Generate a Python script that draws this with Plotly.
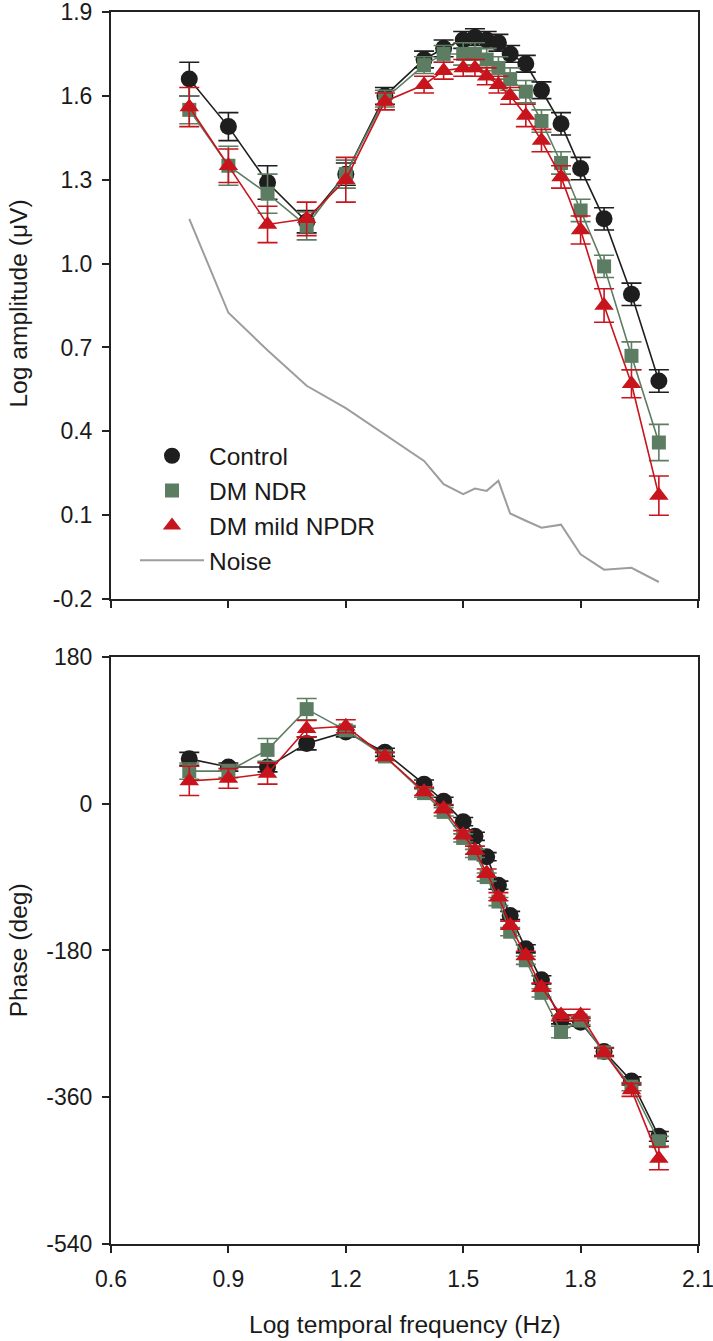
import plotly.graph_objects as go

# ---------------- data ----------------
log_freq = [0.8, 0.9, 1.0, 1.1, 1.2, 1.3, 1.4, 1.45, 1.5, 1.53, 1.56, 1.59,
            1.62, 1.66, 1.70, 1.75, 1.80, 1.86, 1.93, 2.0]

amp_control = [1.66, 1.49, 1.29, 1.15, 1.32, 1.60, 1.73, 1.77, 1.80, 1.81, 1.80, 1.79,
               1.75, 1.715, 1.62, 1.50, 1.34, 1.16, 0.89, 0.58]
amp_ndr = [1.55, 1.35, 1.25, 1.135, 1.32, 1.59, 1.71, 1.75, 1.75, 1.75, 1.73, 1.70,
           1.66, 1.615, 1.51, 1.36, 1.19, 0.99, 0.67, 0.36]
amp_npdr = [1.56, 1.35, 1.14, 1.16, 1.30, 1.58, 1.64, 1.69, 1.70, 1.70, 1.67, 1.64,
            1.60, 1.53, 1.44, 1.31, 1.12, 0.85, 0.57, 0.17]
amp_noise = [1.16, 0.824, 0.69, 0.563, 0.483, 0.39, 0.294, 0.211, 0.175, 0.195, 0.187, 0.223,
             0.106, 0.08, 0.055, 0.066, -0.04, -0.095, -0.088, -0.139]

amp_err_control = [0.06, 0.05, 0.06, 0.04, 0.04, 0.03, 0.03, 0.03, 0.03, 0.03, 0.03, 0.03,
                   0.03, 0.03, 0.03, 0.04, 0.04, 0.04, 0.04, 0.04]
amp_err_ndr = [0.05, 0.07, 0.07, 0.05, 0.05, 0.03, 0.03, 0.03, 0.04, 0.04, 0.04, 0.04,
               0.04, 0.04, 0.04, 0.04, 0.04, 0.04, 0.05, 0.065]
amp_err_npdr = [0.07, 0.06, 0.065, 0.06, 0.08, 0.03, 0.03, 0.03, 0.03, 0.03, 0.03, 0.03,
                0.03, 0.04, 0.04, 0.04, 0.05, 0.06, 0.05, 0.07]

phase_control = [55, 45, 45, 74, 88, 63, 24, 3, -22, -40, -65, -100,
                 -137, -178, -216, -265, -268, -304, -340, -408]
phase_ndr = [40, 40, 66, 116, 90, 58, 13, -10, -42, -61, -90, -120,
             -157, -192, -232, -280, -266, -305, -347, -414]
phase_npdr = [28, 31, 37, 92, 95, 58, 15, -6, -38, -57, -85, -114,
              -149, -186, -225, -259, -259, -305, -351, -435]

phase_err_control = [8, 5, 6, 8, 6, 5, 5, 5, 5, 5, 5, 5, 5, 5, 5, 5, 5, 5, 5, 6]
phase_err_ndr = [10, 8, 14, 13, 6, 5, 5, 5, 5, 5, 5, 5, 5, 5, 5, 7, 5, 5, 5, 6]
phase_err_npdr = [18, 12, 13, 10, 8, 5, 5, 5, 5, 5, 5, 5, 5, 5, 5, 7, 7, 5, 8, 14]

x_ticks = [0.6, 0.9, 1.2, 1.5, 1.8, 2.1]
x_ticktext = ["0.6", "0.9", "1.2", "1.5", "1.8", "2.1"]
amp_ticks = [-0.2, 0.1, 0.4, 0.7, 1.0, 1.3, 1.6, 1.9]
amp_ticktext = ["-0.2", "0.1", "0.4", "0.7", "1.0", "1.3", "1.6", "1.9"]
phase_ticks = [-540, -360, -180, 0, 180]
phase_ticktext = ["-540", "-360", "-180", "0", "180"]

groups = ["Control", "DM NDR", "DM mild NPDR"]
colors = ["#1e1e1e", "#5d7d62", "#c8141c"]
symbols = ["circle", "square", "triangle-up"]
sizes = [17, 14, 17]
noise_color = "#9d9d9d"

# ---------------- figure ----------------
FONT_FAMILY = "Liberation Sans, Arial, sans-serif"
TICKFONT = dict(family=FONT_FAMILY, size=23, color="#1a1a1a")
TITLEFONT = dict(family=FONT_FAMILY, size=24.6, color="#1a1a1a")
fig = go.Figure()

amps = [amp_control, amp_ndr, amp_npdr]
amp_errs = [amp_err_control, amp_err_ndr, amp_err_npdr]
phases = [phase_control, phase_ndr, phase_npdr]
phase_errs = [phase_err_control, phase_err_ndr, phase_err_npdr]

fig.add_trace(go.Scatter(x=log_freq, y=amp_noise, mode="lines",
                         line=dict(color=noise_color, width=2),
                         xaxis="x", yaxis="y", showlegend=False, hoverinfo="skip"))

for i, g in enumerate(groups):
    fig.add_trace(go.Scatter(
        x=log_freq, y=amps[i], mode="lines+markers",
        line=dict(color=colors[i], width=1.6),
        marker=dict(symbol=symbols[i], size=sizes[i], color=colors[i]),
        error_y=dict(type="data", array=amp_errs[i], color=colors[i], thickness=1.6, width=10),
        xaxis="x", yaxis="y", showlegend=False))
    fig.add_trace(go.Scatter(
        x=log_freq, y=phases[i], mode="lines+markers",
        line=dict(color=colors[i], width=1.6),
        marker=dict(symbol=symbols[i], size=sizes[i], color=colors[i]),
        error_y=dict(type="data", array=phase_errs[i], color=colors[i], thickness=1.6, width=10),
        xaxis="x2", yaxis="y2", showlegend=False))

# legend entries
for i, g in enumerate(groups):
    fig.add_trace(go.Scatter(x=[None], y=[None], mode="markers", name=g,
                             marker=dict(symbol=symbols[i], size=sizes[i], color=colors[i]),
                             xaxis="x", yaxis="y"))
fig.add_trace(go.Scatter(x=[None], y=[None], mode="lines", name="Noise",
                         line=dict(color=noise_color, width=2), xaxis="x", yaxis="y"))

axis_common = dict(showline=True, linecolor="#222", linewidth=2, mirror=True,
                   ticks="outside", ticklen=7, tickwidth=1.5, tickcolor="#222",
                   showgrid=False, zeroline=False, tickfont=TICKFONT, automargin=False,
                   ticklabeloverflow="allow")

fig.update_layout(
    width=713, height=1341,
    margin=dict(l=111, r=15, t=12, b=97, autoexpand=False),
    plot_bgcolor="white", paper_bgcolor="white",
    xaxis=dict(domain=[0, 1], range=[0.6, 2.1], tickvals=x_ticks, ticktext=x_ticktext,
               showticklabels=False, anchor="y", **axis_common),
    yaxis=dict(domain=[0.5235, 1], range=[-0.2, 1.9], tickvals=amp_ticks, ticktext=amp_ticktext,
               anchor="x", ticklabelstandoff=5, **axis_common),
    xaxis2=dict(domain=[0, 1], range=[0.6, 2.1], tickvals=x_ticks, ticktext=x_ticktext,
                anchor="y2", ticklabelstandoff=6, **axis_common),
    yaxis2=dict(domain=[0, 0.4765], range=[-540, 180], tickvals=phase_ticks, ticktext=phase_ticktext,
                anchor="x2", ticklabelstandoff=5, **axis_common),
    legend=dict(x=0.0409, y=0.658, xanchor="left", yanchor="top",
                font=dict(family=FONT_FAMILY, size=24.5, color="#1a1a1a"),
                bgcolor="rgba(0,0,0,0)", itemwidth=64, tracegroupgap=0),
    annotations=[
        dict(text="Log amplitude (μV)", xref="paper", yref="paper", x=-0.158, y=0.7635,
             textangle=-90, showarrow=False, xanchor="center", yanchor="middle",
             font=TITLEFONT),
        dict(text="Phase (deg)", xref="paper", yref="paper", x=-0.158, y=0.2386,
             textangle=-90, showarrow=False, xanchor="center", yanchor="middle",
             font=TITLEFONT),
        dict(text="Log temporal frequency (Hz)", xref="paper", yref="paper", x=0.5, y=-0.0657,
             showarrow=False, xanchor="center", yanchor="middle", font=TITLEFONT),
    ],
)

fig.write_html("out.html", config={"displayModeBar": False},
               post_script="document.body.style.margin='0';document.body.style.overflow='hidden';")
